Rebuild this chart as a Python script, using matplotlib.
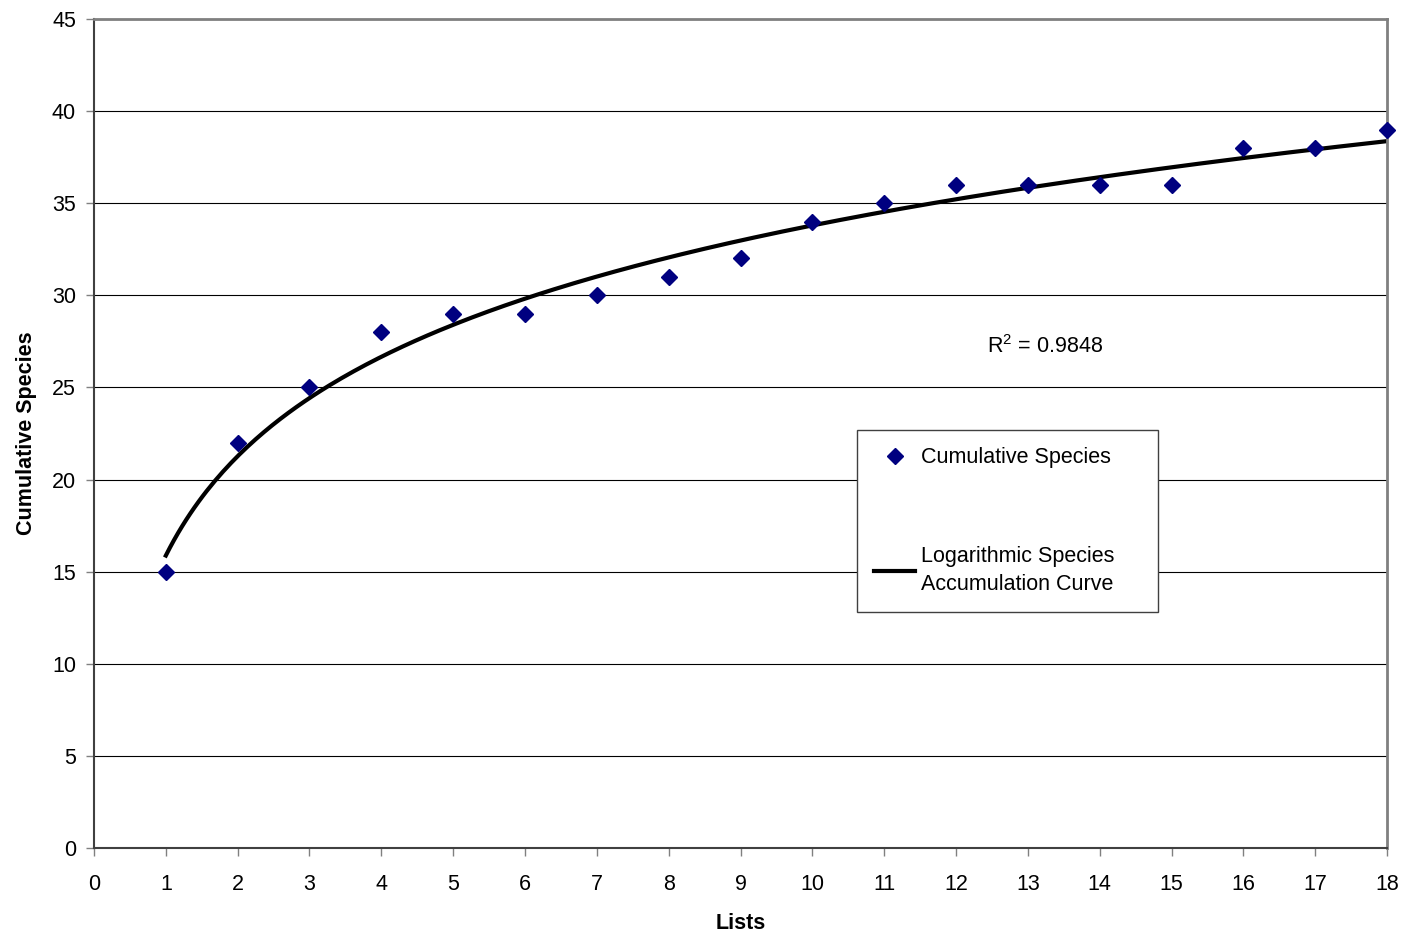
import numpy as np
import matplotlib
matplotlib.use('Agg')
import matplotlib.pyplot as plt

# data
lists = [1, 2, 3, 4, 5, 6, 7, 8, 9, 10, 11, 12, 13, 14, 15, 16, 17, 18]
species = [15, 22, 25, 28, 29, 29, 30, 31, 32, 34, 35, 36, 36, 36, 36, 38, 38, 39]
r2_label = 'R$^2$ = 0.9848'

plt.rcParams['font.family'] = ['Liberation Sans', 'DejaVu Sans']
plt.rcParams['mathtext.fontset'] = 'custom'
plt.rcParams['mathtext.rm'] = 'Liberation Sans'

fs = 15.5

# logarithmic trendline, fitted to the data
a, b = np.polyfit(np.log(lists), species, 1)
xs = np.linspace(min(lists), max(lists), 300)
ys = a * np.log(xs) + b

fig = plt.figure(figsize=(14.05, 9.36), dpi=100)
ax = fig.add_axes([0.0669, 0.094, 0.9203, 0.8857])

for yv in range(5, 46, 5):
    ax.axhline(yv, color='black', lw=0.8, zorder=0)

ax.plot(lists, species, 'D', color='#000080', markersize=8, ls='none',
        label='Cumulative Species', zorder=3, clip_on=False)
ax.plot(xs, ys, color='black', lw=3, label='Logarithmic Species\nAccumulation Curve', zorder=2)

ax.text(12.43, 27.2, r2_label, fontsize=fs, ha='left', va='center')

ax.set_xlim(0, 18)
ax.set_ylim(0, 45)
ax.set_xticks(range(0, 19))
ax.set_yticks(range(0, 46, 5))
ax.tick_params(direction='out', length=6, width=1, color='#808080', labelsize=fs)
ax.tick_params(axis='x', pad=12.5)
ax.tick_params(axis='y', pad=7)
ax.set_xlabel('Lists', fontsize=fs, fontweight='bold', labelpad=13)
ax.set_ylabel('Cumulative Species', fontsize=fs, fontweight='bold', labelpad=11)

for side in ['top', 'right']:
    ax.spines[side].set_color('#808080')
    ax.spines[side].set_linewidth(2)
for side in ['left', 'bottom']:
    ax.spines[side].set_color('#404040')
    ax.spines[side].set_linewidth(1.5)

leg = ax.legend(loc='upper left', bbox_to_anchor=(0.590, 0.2835, 0.233, 0.2205),
                mode='expand', fontsize=fs,
                frameon=True, fancybox=False, edgecolor='#404040', framealpha=1,
                labelspacing=3.6, borderpad=0.8, handlelength=1.9, handletextpad=0.3,
                borderaxespad=0)
leg.get_frame().set_linewidth(1)
for t in leg.get_texts():
    t.set_linespacing(1.45)

plt.savefig('out.png', dpi=100)
